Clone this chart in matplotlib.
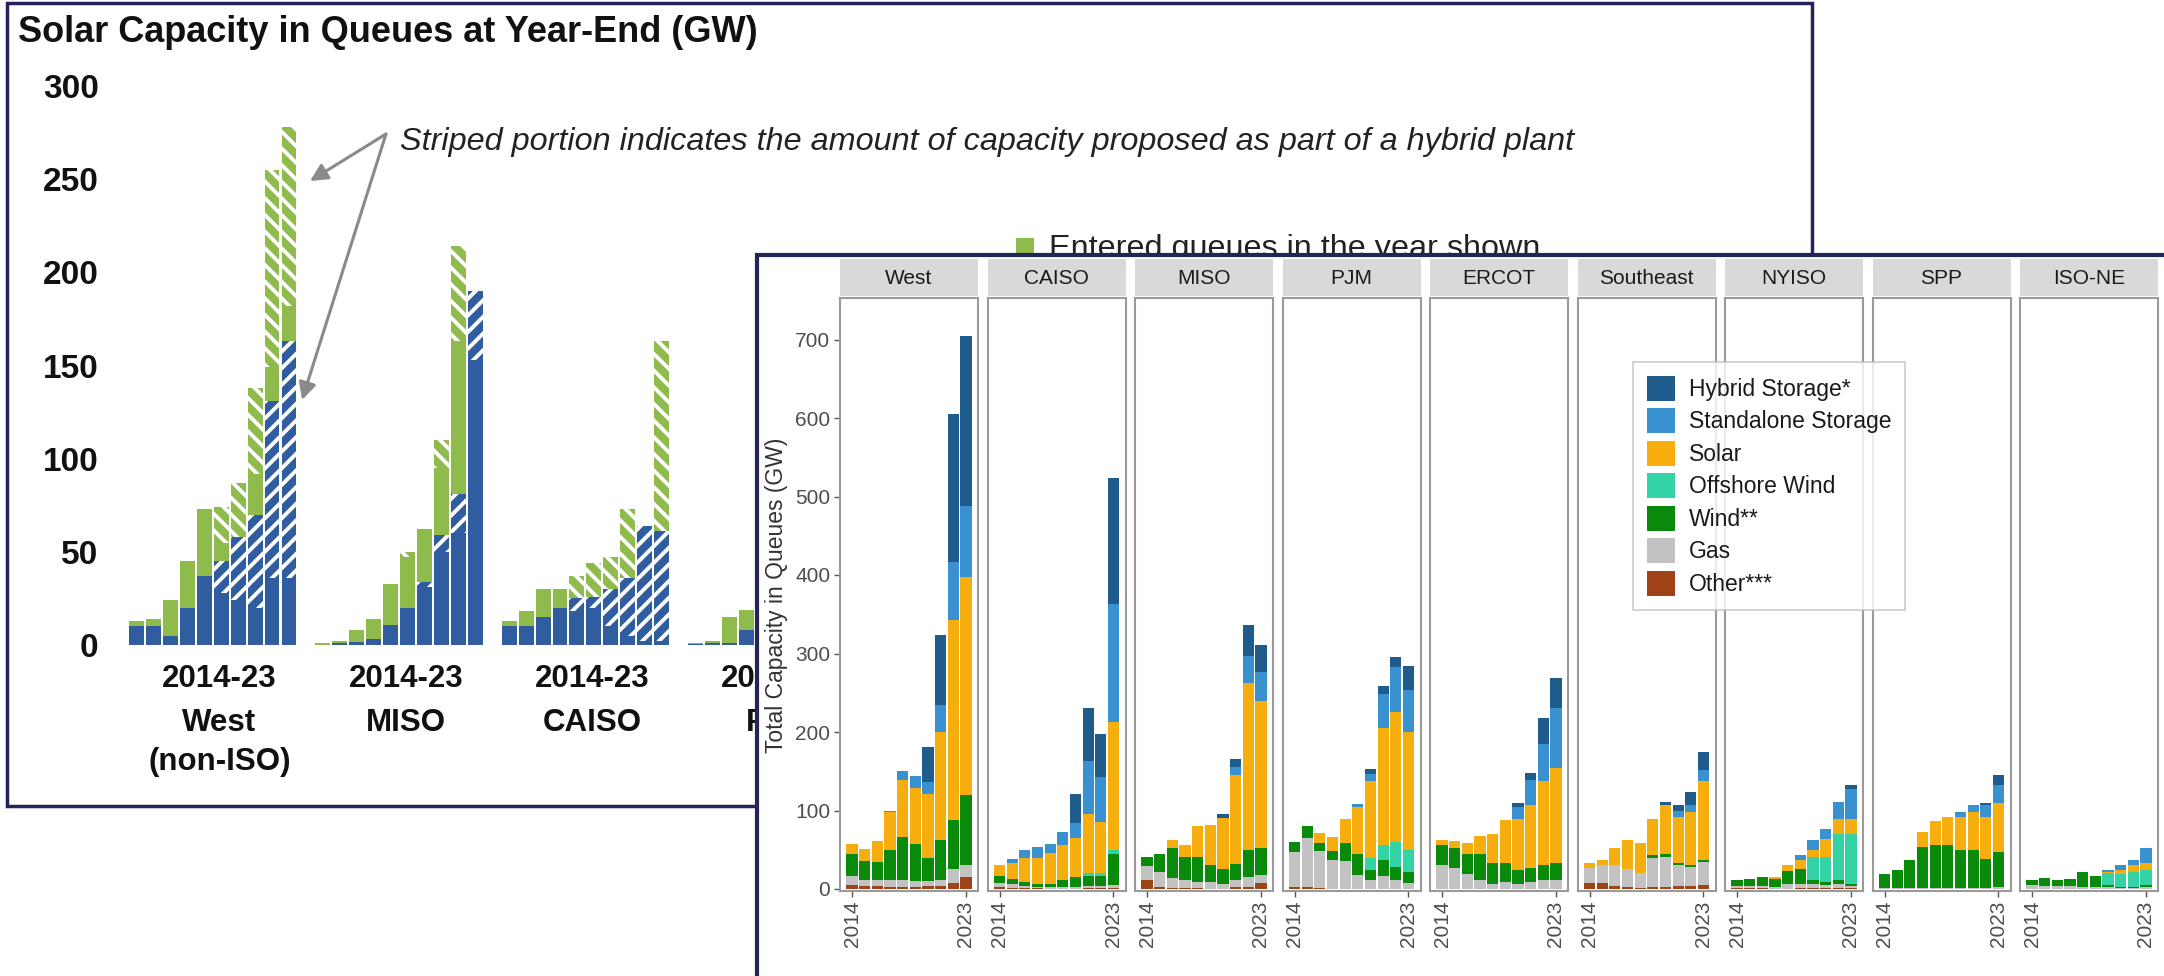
import matplotlib
matplotlib.use('Agg')
import matplotlib.pyplot as plt
from matplotlib.patches import Rectangle, Patch

plt.rcParams['font.family'] = ['Liberation Sans', 'DejaVu Sans']
plt.rcParams['hatch.linewidth'] = 2.8

# ---------------- back chart data: solar capacity in queues at year-end (GW) ----------------
BACK_REGIONS = ['West\n(non-ISO)', 'MISO', 'CAISO', 'PJM']
BACK_PERIOD = '2014-23'
BACK_YTICKS = [0, 50, 100, 150, 200, 250, 300]
BACK_OLD_SOLO = [[10, 10, 5, 20, 37, 28, 24, 20, 36, 36],
                 [0, 1, 1.5, 3, 11, 20, 31, 50, 60, 153],
                 [10, 10, 15, 20, 18, 20, 10, 5, 2, 2],
                 [0.5, 1, 1, 8]]
BACK_OLD_HYBRID = [[0, 0, 0, 0, 0, 17, 34, 50, 95, 127],
                   [0, 0, 0, 0, 0, 0, 3, 9, 21, 37],
                   [0, 0, 0, 0, 7, 6, 20, 31, 62, 59],
                   [0, 0, 0, 0]]
BACK_NEW_SOLO = [[3, 4, 19, 25, 36, 10, 0, 22, 18, 19],
                 [1, 1, 6.5, 11, 22, 27, 28, 36, 82, 0],
                 [3, 8, 15, 10, 0, 0, 0, 0, 0, 0],
                 [0.5, 1, 14, 11]]
BACK_NEW_HYBRID = [[0, 0, 0, 0, 0, 19, 29, 46, 106, 96],
                   [0, 0, 0, 0, 0, 3, 0, 15, 51, 0],
                   [0, 0, 0, 0, 12, 18, 17, 37, 0, 102],
                   [0, 0, 0, 0]]

# ---------------- front chart data: total capacity in queues (GW) ----------------
YEARS = list(range(2014, 2024))
FRONT_REGIONS = ['West', 'CAISO', 'MISO', 'PJM', 'ERCOT', 'Southeast', 'NYISO', 'SPP', 'ISO-NE']
FRONT_YTICKS = [0, 100, 200, 300, 400, 500, 600, 700]
TECHS = ['Hybrid Storage*', 'Standalone Storage', 'Solar', 'Offshore Wind', 'Wind**', 'Gas', 'Other***']
OTHER = [[5, 4, 4, 3, 3, 3, 4, 4, 8, 15],
         [2, 1, 1, 1, 0.5, 0, 0, 1, 1, 1],
         [11, 2, 1, 1, 1, 0.5, 0.5, 2, 3, 8],
         [3, 3, 1, 0, 0, 0, 0, 0, 0, 0],
         [0, 0, 0, 0, 0, 0, 0, 0, 0, 0],
         [8, 8, 4, 2, 1, 2, 3, 4, 4, 5],
         [1, 1, 1, 0, 0, 1, 1, 1, 1, 1],
         [0, 0, 0, 0, 0, 0, 0, 0, 0, 0],
         [0, 0, 0, 0, 0, 0, 0, 0, 0, 0]]
GAS = [[12, 8, 8, 9, 9, 7, 6, 8, 17, 15],
       [6, 5, 3, 2, 1.5, 2, 2, 3, 3, 4],
       [18, 20, 13, 10, 8, 8, 5.5, 9, 12, 10],
       [44, 62, 48, 37, 36, 18, 12, 17, 12, 8],
       [30, 27, 19, 12, 7, 9, 6, 9, 11, 11],
       [19, 22, 26, 23, 20, 38, 38, 26, 24, 30],
       [3, 3, 3, 3, 6, 5, 5, 4, 5, 3],
       [1, 1, 1, 1, 1, 1, 1, 1, 1, 3],
       [5, 4, 4, 4, 3, 2, 2, 1, 1, 2]]
WIND = [[27, 24, 23, 38, 54, 47, 30, 50, 63, 90],
        [8, 7, 5, 3, 5, 9, 13, 13, 13, 40],
        [12, 22, 38, 30, 32, 21.5, 19, 21, 35, 34],
        [13, 15, 9, 12, 23, 26, 12, 20, 16, 14],
        [26, 25, 25, 32, 26, 24, 18, 18, 19, 22],
        [0, 0, 0, 0, 0, 3, 3, 3, 2, 2],
        [7, 9, 11, 10, 17, 20, 5, 4, 5, 3],
        [18, 23, 36, 53, 55, 55, 49, 49, 37, 44],
        [6, 10, 8, 9, 19, 15, 3, 2, 2, 3]]
OFFSHORE = [[0, 0, 0, 0, 0, 0, 0, 0, 0, 0],
            [0, 0, 0, 0, 0, 0, 0, 3, 3, 5],
            [0, 0, 0, 0, 0, 0, 0, 0, 0, 0],
            [0, 0, 0, 0, 0, 0, 16, 19, 32, 28],
            [0, 0, 0, 0, 0, 0, 0, 0, 0, 0],
            [0, 0, 0, 0, 0, 0, 0, 0, 0, 0],
            [0, 0, 0, 0, 0, 0, 30, 32, 59, 63],
            [0, 0, 0, 0, 0, 0, 0, 0, 0, 0],
            [0, 0, 0, 0, 0, 0, 15, 16, 19, 19]]
SOLAR = [[13, 15, 26, 48, 73, 72, 81, 138, 255, 278],
         [15, 20, 31, 34, 39, 45, 50, 75, 65, 163],
         [0, 0, 10, 15, 39, 52, 65, 113, 212, 188],
         [0, 0, 13, 17, 30, 61, 97, 149, 165, 150],
         [6, 9, 15, 24, 37, 55, 65, 80, 107, 121],
         [6, 7, 22, 37, 38, 46, 63, 59, 68, 100],
         [0, 0, 0, 2, 8, 11, 9, 23, 19, 19],
         [0, 0, 0, 18, 30, 36, 42, 48, 54, 63],
         [0, 0, 0, 0, 0, 0, 2, 5, 8, 9]]
STANDALONE = [[0, 0, 0, 1, 11, 15, 15, 35, 74, 90],
              [0, 5, 10, 13, 11, 16, 19, 68, 58, 150],
              [0, 0, 0, 0, 0, 0, 1, 10, 35, 36],
              [0, 0, 0, 0, 0, 3, 10, 43, 58, 54],
              [0, 0, 0, 0, 0, 0, 15, 32, 48, 77],
              [0, 0, 0, 0, 0, 0, 0, 7, 9, 14],
              [0, 0, 0, 0, 0, 6, 12, 12, 22, 38],
              [0, 0, 0, 0, 0, 0, 6, 9, 15, 23],
              [0, 0, 0, 0, 0, 0, 2, 6, 7, 19]]
HYBRID = [[0, 0, 0, 0, 0, 0, 45, 88, 188, 217],
          [0, 0, 0, 0, 0, 0, 37, 68, 55, 160],
          [0, 0, 0, 0, 0, 0, 4, 11, 39, 35],
          [0, 0, 0, 0, 0, 0, 6, 10, 13, 30],
          [0, 0, 0, 0, 0, 0, 6, 9, 33, 38],
          [0, 0, 0, 0, 0, 0, 4, 8, 16, 24],
          [0, 0, 0, 0, 0, 0, 0, 0, 0, 6],
          [0, 0, 0, 0, 0, 0, 0, 0, 3, 12],
          [0, 0, 0, 0, 0, 0, 0, 0, 0, 0]]

# ---------------- styles ----------------
W, H = 2164, 976
NAVY = '#23255a'
BLUE = '#2f5d9f'
GREEN = '#8fba4c'
TECH_COLORS = {'Hybrid Storage*': '#1f5c8b', 'Standalone Storage': '#3a91cf', 'Solar': '#f6ad0e',
               'Offshore Wind': '#34d3a5', 'Wind**': '#0a8a0a', 'Gas': '#c2c2c2', 'Other***': '#9e4318'}

fig = plt.figure(figsize=(W / 100, H / 100), dpi=100)
fig.patch.set_facecolor('white')


def px_axes(x0, y0, x1, y1):
    return fig.add_axes([x0 / W, 1 - y1 / H, (x1 - x0) / W, (y1 - y0) / H])


# ================= back panel =================
fig.add_artist(Rectangle((7 / W, 1 - 806 / H), (1812 - 7) / W, (806 - 3) / H,
                         transform=fig.transFigure, fill=False, ec=NAVY, lw=2.5, zorder=0.5))
fig.text(18 / W, 1 - 32 / H, 'Solar Capacity in Queues at Year-End (GW)', fontsize=26,
         fontweight='bold', color='#111111', ha='left', va='center', zorder=2)

BY0, BY300 = 645, 86
GW_PX = (BY0 - BY300) / 300
bx = px_axes(100, BY300, 1812, BY0)
bx.set_zorder(1)
slot_px = 16.94
x_left = -(136.5 - 100) / slot_px
bx.set_xlim(x_left, x_left + (1812 - 100) / slot_px)
bx.set_ylim(0, 300)
for s in bx.spines.values():
    s.set_visible(False)
bx.set_xticks([])
bx.set_yticks(BACK_YTICKS)
bx.tick_params(axis='y', length=0, pad=1, labelsize=24, labelcolor='#111111')
for t in bx.get_yticklabels():
    t.set_fontweight('bold')
bx.patch.set_alpha(0)


def ypx(py):
    return (BY0 - py) / (BY0 - BY300)


for g, name in enumerate(BACK_REGIONS):
    n = len(BACK_OLD_SOLO[g])
    xs = [g * 11 + i for i in range(n)]
    b0 = [0] * n
    segs = [(BACK_OLD_SOLO[g], BLUE, None), (BACK_OLD_HYBRID[g], BLUE, '//'),
            (BACK_NEW_SOLO[g], GREEN, None), (BACK_NEW_HYBRID[g], GREEN, '\\\\')]
    for vals, col, hat in segs:
        if hat:
            bx.bar(xs, vals, bottom=b0, width=0.88, color=col, edgecolor='white', linewidth=0, hatch=hat)
        else:
            bx.bar(xs, vals, bottom=b0, width=0.88, color=col, linewidth=0)
        b0 = [a + b for a, b in zip(b0, vals)]
    cx = g * 11 + 4.5 + 0.4
    bx.text(cx, ypx(679), BACK_PERIOD, transform=bx.get_xaxis_transform(), ha='center', va='center',
            fontsize=22.5, fontweight='bold', color='#111111', clip_on=False)
    bx.text(cx, ypx(708), name, transform=bx.get_xaxis_transform(), ha='center', va='top',
            fontsize=22.5, fontweight='bold', color='#111111', clip_on=False, linespacing=1.38)

bx.text((400 - 136.5) / slot_px, (BY0 - 142) / GW_PX,
        'Striped portion indicates the amount of capacity proposed as part of a hybrid plant',
        fontsize=23.3, style='italic', color='#222222', ha='left', va='center', clip_on=False)
start = ((386 - 136.5) / slot_px, (BY0 - 134) / GW_PX)
for end in [((310 - 136.5) / slot_px, (BY0 - 181) / GW_PX), ((302 - 136.5) / slot_px, (BY0 - 400) / GW_PX)]:
    bx.annotate('', xy=end, xytext=start, xycoords='data', textcoords='data',
                arrowprops=dict(arrowstyle='-|>', color='#8a8a8a', lw=2.2, mutation_scale=26,
                                shrinkA=0, shrinkB=0), annotation_clip=False)

fig.add_artist(Rectangle((1016 / W, 1 - 256 / H), 18 / W, 18 / H, transform=fig.transFigure,
                         fc=GREEN, ec='none', zorder=2))
fig.text(1049 / W, 1 - 249 / H, 'Entered queues in the year shown', fontsize=23.3, color='#222222',
         ha='left', va='center', zorder=2)

# ================= front panel =================
fig.add_artist(Rectangle((757 / W, -0.02), 1.2, 1 - 255 / H + 0.02, transform=fig.transFigure,
                         fc='white', ec=NAVY, lw=3, zorder=5))

PY0, PY1 = 298, 891
STRIP0, STRIP1 = 259, 296
Y0PX, Y700PX = 889, 339.5
SCALE = (Y0PX - Y700PX) / 700
FRONT_STACK = [(OTHER, 'Other***'), (GAS, 'Gas'), (WIND, 'Wind**'), (OFFSHORE, 'Offshore Wind'),
               (SOLAR, 'Solar'), (STANDALONE, 'Standalone Storage'), (HYBRID, 'Hybrid Storage*')]
ymin = -(PY1 - Y0PX) / SCALE
ymax = (Y0PX - PY0) / SCALE
for k, reg in enumerate(FRONT_REGIONS):
    x0 = 840 + k * 147.5
    ax = px_axes(x0, PY0, x0 + 138, PY1)
    ax.set_zorder(6)
    base = [0] * len(YEARS)
    for data, tech in FRONT_STACK:
        vals = data[k]
        ax.bar(YEARS, vals, bottom=base, width=0.88, color=TECH_COLORS[tech], linewidth=0)
        base = [a + b for a, b in zip(base, vals)]
    ax.set_xlim(2013.05, 2023.95)
    ax.set_ylim(ymin, ymax)
    for s in ax.spines.values():
        s.set_color('#9a9a9a')
        s.set_linewidth(1.5)
    ax.set_xticks([2014, 2023])
    ax.set_xticklabels(['2014', '2023'], rotation=90)
    ax.tick_params(axis='x', length=4, width=1, color='#555555', labelsize=15,
                   labelcolor='#4d4d4d', pad=3)
    if k == 0:
        ax.set_yticks(FRONT_YTICKS)
        ax.tick_params(axis='y', length=4, width=1, color='#555555', labelsize=15,
                       labelcolor='#4d4d4d', pad=3)
    else:
        ax.set_yticks([])
    hh = PY1 - PY0
    ax.add_patch(Rectangle((0, (PY1 - STRIP1) / hh), 1, (STRIP1 - STRIP0) / hh, transform=ax.transAxes,
                           fc='#d9d9d9', ec='none', clip_on=False))
    ax.text(0.5, (PY1 - (STRIP0 + STRIP1) / 2 - 1) / hh, reg, transform=ax.transAxes, ha='center',
            va='center', fontsize=15, color='#1a1a1a')

fig.text(777 / W, 1 - 595 / H, 'Total Capacity in Queues (GW)', rotation=90, ha='center',
         va='center', fontsize=16.5, color='#333333', zorder=7)

handles = [Patch(facecolor=TECH_COLORS[t], edgecolor='none') for t in TECHS]
leg = fig.legend(handles, TECHS, loc='upper left', bbox_to_anchor=(1633 / W, 1 - 362 / H),
                 frameon=True, fancybox=False, edgecolor='#bdbdbd', fontsize=16.5,
                 handlelength=1.25, handleheight=1.3, handletextpad=0.6, labelspacing=0.32,
                 borderpad=0.6, borderaxespad=0)
leg.get_frame().set_linewidth(1.2)
for t in leg.get_texts():
    t.set_color('#1a1a1a')
leg.set_zorder(10)

fig.savefig('out.png', dpi=100, facecolor='white')
